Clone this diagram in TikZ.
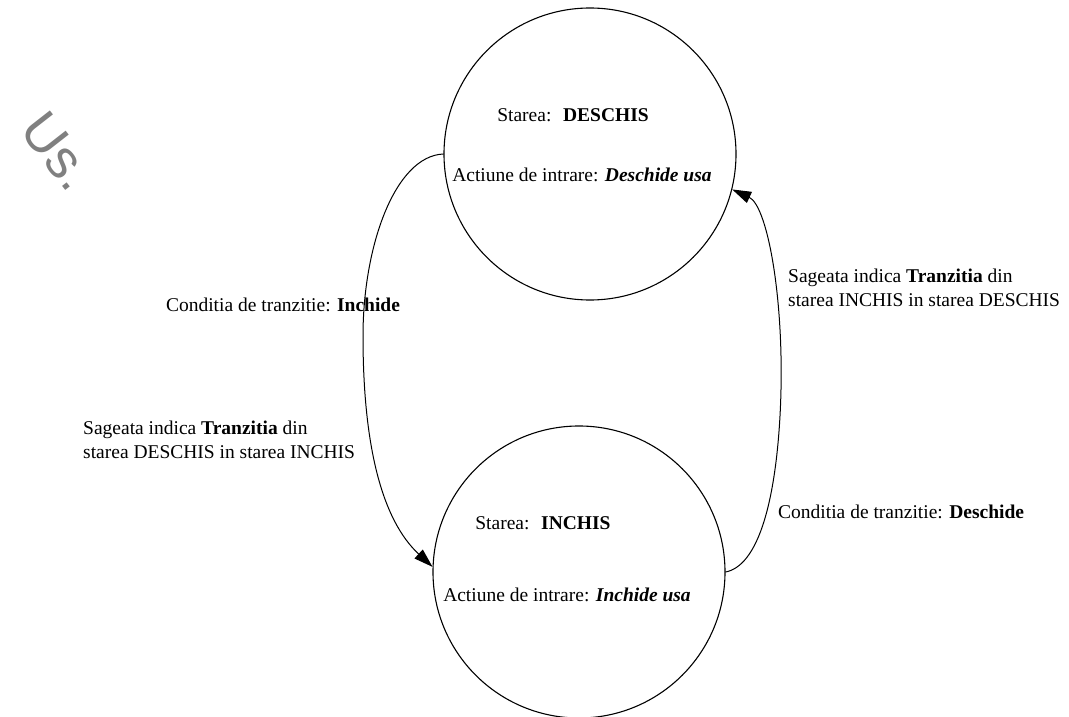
\documentclass[tikz,border=0pt]{standalone}
\usepackage{fontspec}
\setmainfont{Liberation Serif}
\newfontfamily\semnfont{Liberation Sans}
\usetikzlibrary{arrows.meta}

\begin{document}
\begin{tikzpicture}[line cap=round,line join=round,>={Triangle[length=19pt,width=12pt]},x=1pt,y=1pt,
  stare/.style={draw,circle,minimum size=292pt,inner sep=0pt,line width=1.1pt},
  eticheta/.style={inner sep=0pt,font=\fontsize{19.5}{23.5}\selectfont},
  trecere/.style={->,line width=1pt}]
\useasboundingbox (0,0) rectangle (1069,716);
% semn gri in colt
\node [text=gray,rotate=-52,inner sep=0pt,font=\semnfont\fontsize{54}{54}\selectfont] (semn) at (58,565) {Us.};
% cele doua stari
\node [stare] (deschis) at (590,562) {};
\node [stare] (inchis) at (579,144) {};
\node [eticheta] (numeD) at (573,601) {Starea:\hspace{0.6em}\textbf{DESCHIS}};
\node [eticheta] (actD) at (582,541) {Actiune de intrare: \textbf{\textit{Deschide usa}}};
\node [eticheta] (numeI) at (543,193) {Starea:\hspace{0.6em}\textbf{INCHIS}};
\node [eticheta] (actI) at (567,121) {Actiune de intrare: \textbf{\textit{Inchide usa}}};
% etichetele tranzitiilor
\node [eticheta] (condI) at (283,411) {Conditia de tranzitie: \textbf{Inchide}};
\node [eticheta,anchor=west,align=left] (sagI) at (83,276) {Sageata indica \textbf{Tranzitia} din\\starea DESCHIS in starea INCHIS};
\node [eticheta,anchor=west,align=left] (sagD) at (788,428) {Sageata indica \textbf{Tranzitia} din\\starea INCHIS in starea DESCHIS};
\node [eticheta,anchor=west] (condD) at (778,204) {Conditia de tranzitie: \textbf{Deschide}};
% tranzitiile
\draw [trecere] (deschis.west) .. controls (395,560) and (363,470) .. (363,380) .. controls (363,270) and (382,196) .. (inchis.178);
\draw [trecere] (inchis.east) .. controls (757,150) and (775,210) .. (780,300) .. controls (786,410) and (768,510) .. (deschis.-14);
\end{tikzpicture}
\end{document}
